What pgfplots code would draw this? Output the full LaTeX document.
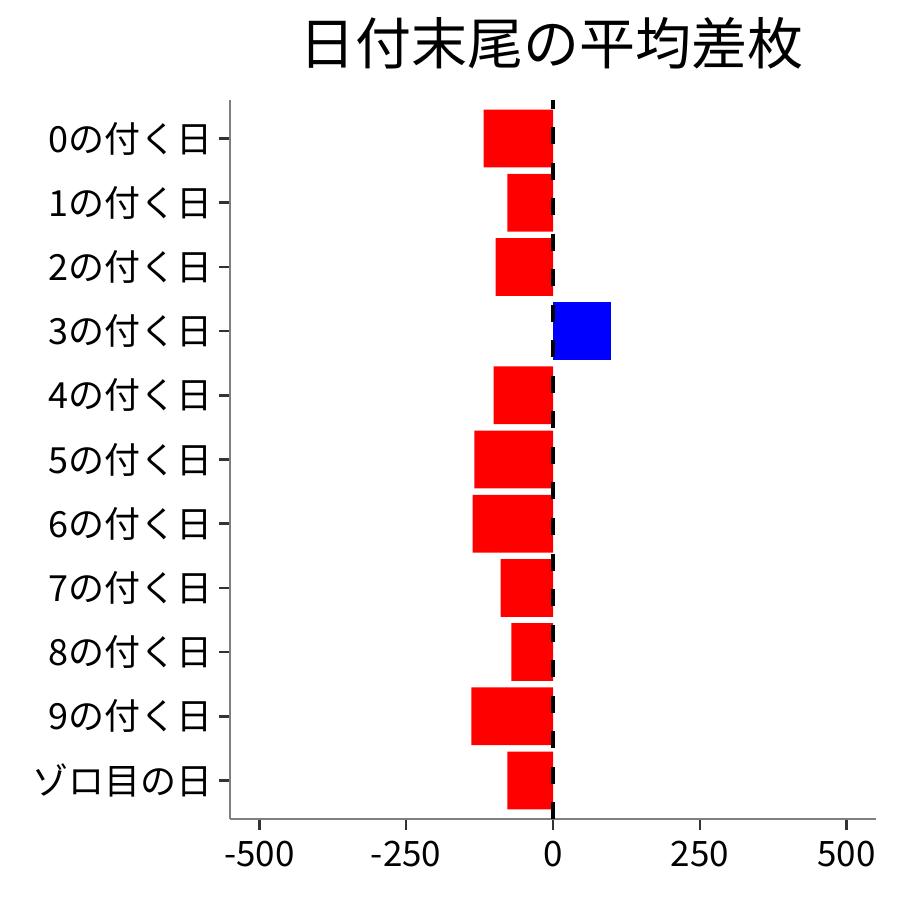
\documentclass[border=0pt]{standalone}
\usepackage{fontspec}
\setmainfont{Noto Sans CJK JP}
\usepackage{pgfplots}
\pgfplotsset{compat=1.18}
\definecolor{axisgray}{RGB}{128,128,128}
\definecolor{tickgray}{RGB}{51,51,51}
\begin{document}
\begin{tikzpicture}[x=1bp,y=1bp]
\useasboundingbox (0,0) rectangle (900,900);
\begin{axis}[
  at={(230bp,81bp)}, anchor=south west,
  width=646bp, height=719bp, scale only axis,
  xmin=-550, xmax=550,
  ymin=-0.6, ymax=10.6, y dir=reverse,
  axis x line=bottom, axis y line=left,
  axis line style={-, color=axisgray, line width=1.5bp},
  xtick={-500,-250,0,250,500},
  xticklabels={-500,-250,0,250,500},
  ytick={0,...,10},
  yticklabels={0の付く日,1の付く日,2の付く日,3の付く日,4の付く日,5の付く日,6の付く日,7の付く日,8の付く日,9の付く日,ゾロ目の日},
  tick align=outside,
  major tick length=11bp,
  tick style={line width=2.5bp, color=tickgray},
  ticklabel style={text=black},
  xticklabel style={font=\fontsize{35bp}{40bp}\selectfont, anchor=north, yshift=-8bp},
  yticklabel style={font=\fontsize{36bp}{40bp}\selectfont, anchor=east, xshift=-3bp},
]
\addplot[xbar, bar width=0.9, bar shift=0pt, draw=none, fill=red] coordinates {
  (-118.3,0) (-77.5,1) (-97.9,2) (-101.3,4) (-133.7,5)
  (-137.0,6) (-89.4,7) (-70.7,8) (-138.8,9) (-77.5,10)
};
\addplot[xbar, bar width=0.9, bar shift=0pt, draw=none, fill=blue] coordinates {(97.9,3)};
\addplot[sharp plot, no marks, black, line width=3.5bp, dash pattern=on 17bp off 18.5bp] coordinates {(0,10.6) (0,-0.6)};
\end{axis}
\node[anchor=base, font=\fontsize{56bp}{60bp}\selectfont] at (551bp,835bp) {日付末尾の平均差枚};
\end{tikzpicture}
\end{document}
